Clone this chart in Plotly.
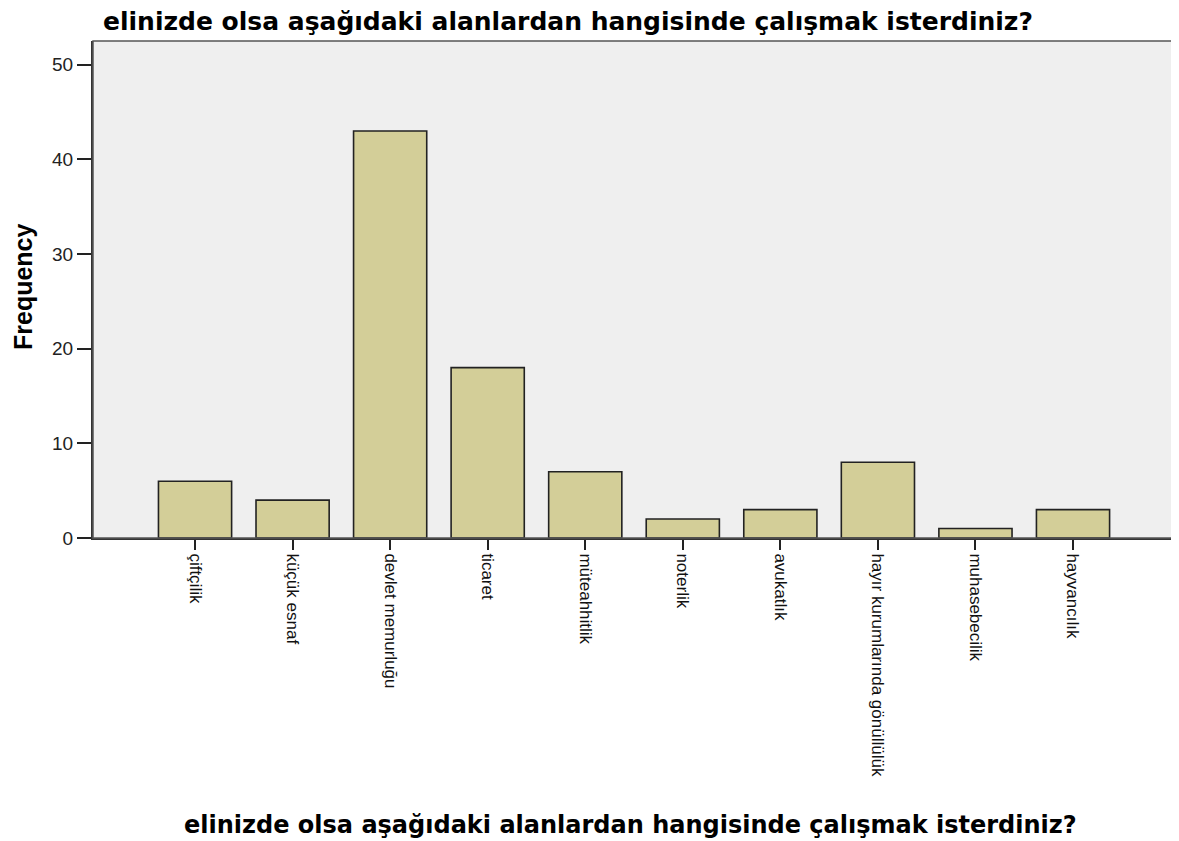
import plotly.graph_objects as go

categories = ["çiftçilik", "küçük esnaf", "devlet memurluğu", "ticaret", "müteahhitlik",
              "noterlik", "avukatlık", "hayır kurumlarında gönüllülük", "muhasebecilik", "hayvancılık"]
frequency = [6, 4, 43, 18, 7, 2, 3, 8, 1, 3]
y_ticks = [0, 10, 20, 30, 40, 50]

title_text = "elinizde olsa aşağıdaki alanlardan hangisinde çalışmak isterdiniz?"

W, H = 1171, 833
L, R, T, B = 85, 2, 33, 303
pw, ph = W - L - R, H - T - B

fig = go.Figure(go.Bar(
    x=categories, y=frequency,
    marker=dict(color="#D3CE98", line=dict(color="#222222", width=1.6)),
))

fig.update_layout(
    width=W, height=H,
    margin=dict(l=L, r=R, t=T, b=B, autoexpand=False),
    paper_bgcolor="white", plot_bgcolor="#EFEFEF",
    bargap=0.25,
    showlegend=False,
    font=dict(family="Liberation Sans, Arial", color="#222222"),
    title=dict(text="<b>" + title_text + "</b>", x=95 / W, xanchor="left",
               y=1 - 13 / H, yanchor="middle",
               font=dict(size=25, family="DejaVu Sans", color="#000000")),
)

fig.update_xaxes(
    range=[-1.046, 10.066], tickangle=90, automargin=False,
    ticks="outside", ticklen=10, tickwidth=2, tickcolor="#222222",
    tickfont=dict(size=17, family="Liberation Sans, Arial", color="#111111"),
    showline=True, linecolor="#333333", linewidth=2,
    showgrid=False,
)
fig.update_yaxes(
    range=[0, 52.5], tickvals=y_ticks, automargin=False,
    ticks="outside", ticklen=14, tickwidth=2, tickcolor="#222222",
    tickfont=dict(size=19, family="Liberation Sans, Arial", color="#222222"),
    showline=True, linecolor="#333333", linewidth=2,
    showgrid=False, zeroline=False,
)

# axis titles
fig.add_annotation(text="<b>" + title_text + "</b>", xref="paper", yref="paper",
                   x=(622 - L) / pw, y=(ph + T - 817) / ph, showarrow=False,
                   xanchor="center", yanchor="middle",
                   font=dict(size=24, family="DejaVu Sans", color="#000000"))
fig.add_annotation(text="<b>Frequency</b>", xref="paper", yref="paper",
                   x=(15 - L) / pw, y=(ph + T - 279) / ph, showarrow=False,
                   textangle=-90, xanchor="center", yanchor="middle",
                   font=dict(size=25, family="Liberation Sans, Arial", color="#000000"))

# thin frame on top/right
fig.add_shape(type="rect", xref="paper", yref="paper", x0=0, y0=0, x1=1, y1=1,
              line=dict(color="#555555", width=1.5), layer="above")

fig.write_html("out.html")
